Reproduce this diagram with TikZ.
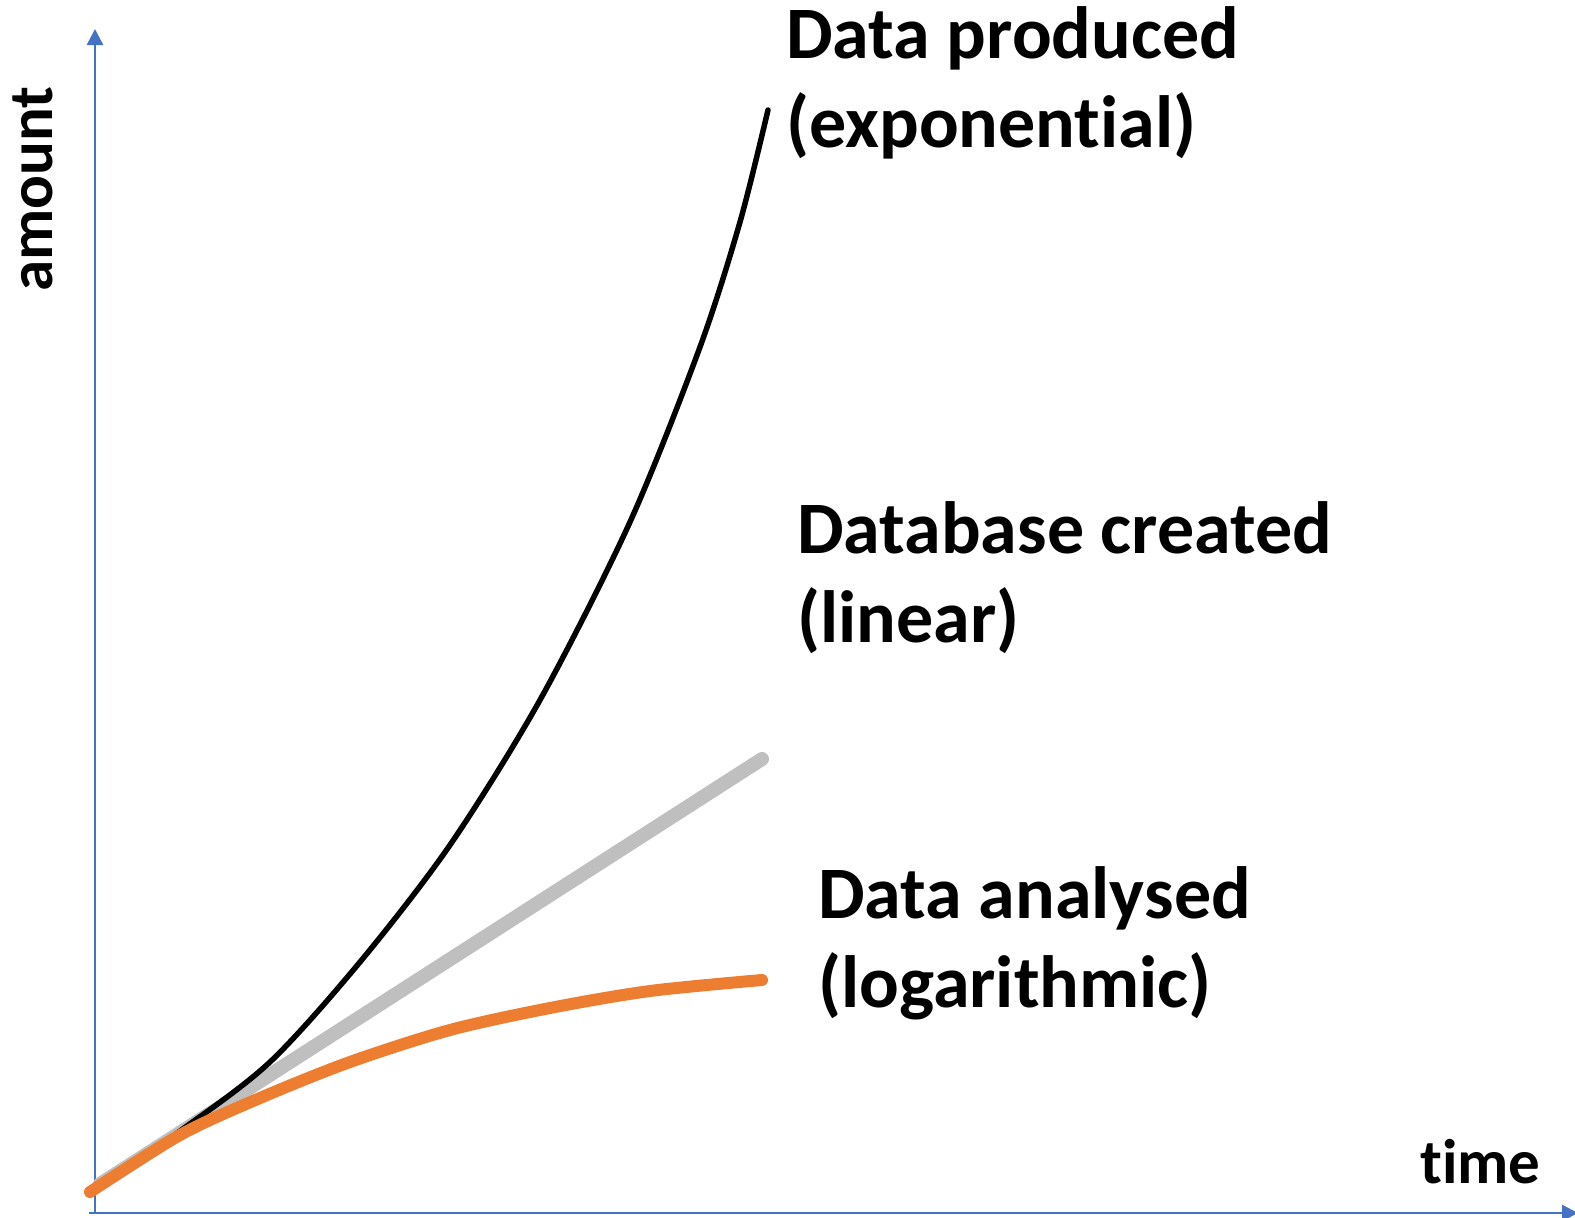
\documentclass[tikz,border=0pt]{standalone}
\usepackage{fontspec}
\setmainfont{Carlito}[Ligatures={NoCommon,NoRare,NoDiscretionary}]
\usetikzlibrary{arrows.meta}
\definecolor{axisblue}{HTML}{4472C4}
\definecolor{logorange}{HTML}{ED7D31}
\definecolor{lingrey}{HTML}{BFBFBF}

\begin{document}
\begin{tikzpicture}[
  x=1pt, y=-1pt,
  axis/.style={axisblue, line width=2.5pt, -{Triangle[length=16pt, width=16pt]}},
  curve/.style={line cap=round, line join=round},
  lbl/.style={font=\fontsize{74}{89}\selectfont\bfseries, align=left,
              inner sep=0pt, anchor=base west},
  axlbl/.style={font=\fontsize{63}{76}\selectfont\bfseries,
                inner sep=0pt, anchor=base west}
]
\useasboundingbox (0,0) rectangle (1575,1218);
% axes
\coordinate (xstart) at (89,1213);
\coordinate (xend) at (1578,1213);
\coordinate (ystart) at (95,1214);
\coordinate (yend) at (95,29);
\draw[axis] (ystart) -- (yend);
\draw[axis] (xstart) -- (xend);
\node[axlbl, rotate=90] (amount) at (52,292) {amount};
\node[axlbl] (time) at (1420,1183) {time};
% curves
\draw[curve, lingrey, line width=14pt] (100,1184) -- (762,759);
\draw[curve, black, line width=5.5pt] plot[smooth] coordinates {
  (92,1190) (180,1131) (270,1062) (360,962) (450,845) (540,700)
  (630,522) (700,347) (740,222) (768,110)};
\draw[curve, logorange, line width=12pt] plot[smooth] coordinates {
  (90,1192) (180,1135) (260,1098) (350,1062) (450,1030) (550,1008)
  (650,991) (762,980)};
% labels (anchored at the baseline of the last line)
\node[lbl] (produced) at (786,147) {Data produced\\(exponential)};
\node[lbl] (created) at (797,642) {Database created\\(linear)};
\node[lbl] (analysed) at (818,1007) {Data analysed\\(logarithmic)};
\end{tikzpicture}
\end{document}
